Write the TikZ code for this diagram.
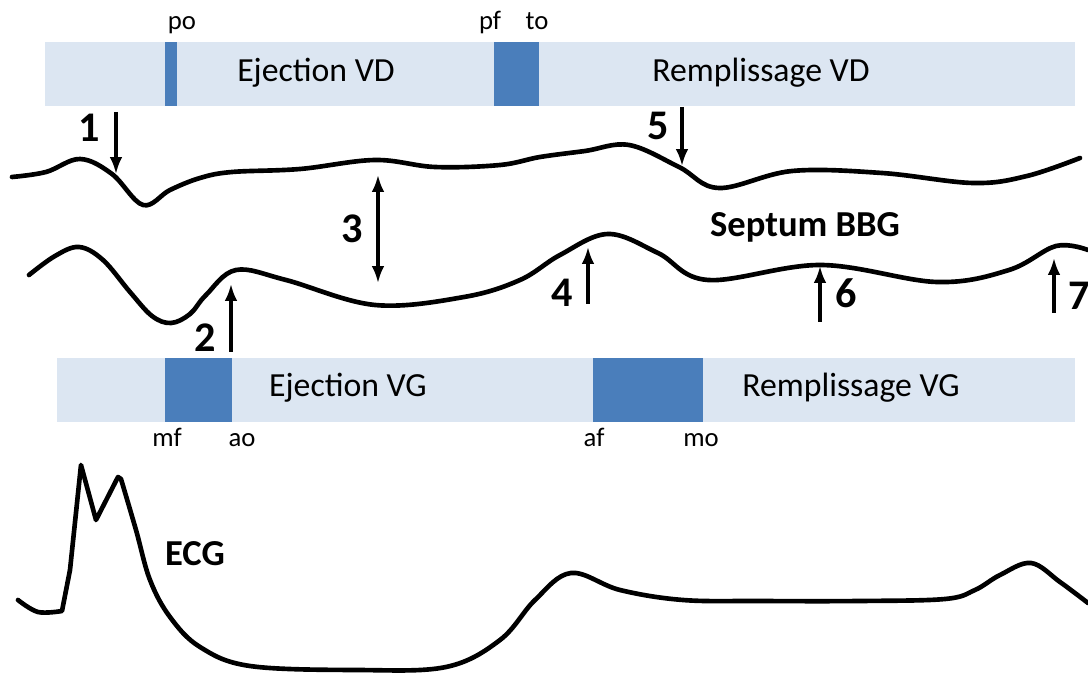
\documentclass[tikz,border=0pt]{standalone}
\usepackage{fontspec}
\setmainfont{Carlito}
\usetikzlibrary{arrows.meta}
\definecolor{barlight}{HTML}{DCE6F2}
\definecolor{bardark}{HTML}{4A7EBB}
\tikzset{
  curve/.style={line width=3.3pt, line cap=round, line join=round},
  arr/.style={line width=2.2pt, -{Latex[length=12pt,width=9pt]}},
  dblarr/.style={line width=2.2pt, {Latex[length=12pt,width=9pt]}-{Latex[length=12pt,width=9pt]}},
  lbl/.style={font=\fontsize{19}{19}\selectfont, inner sep=0pt, anchor=base},
  phase/.style={font=\fontsize{24}{24}\selectfont, inner sep=0pt, anchor=base},
  num/.style={font=\fontsize{30}{30}\selectfont\bfseries, inner sep=0pt, anchor=base},
  ttl/.style={font=\fontsize{26}{26}\selectfont\bfseries, inner sep=0pt, anchor=base},
}
\begin{document}
\begin{tikzpicture}[x=0.025cm, y=-0.025cm]
    \useasboundingbox (0,0) rectangle (1088,675);

    % VD bar
    \begin{scope}
        \fill[barlight] (45,42) rectangle (1075,106);
        \fill[bardark] (165,42) rectangle (177,106);
        \fill[bardark] (494,42) rectangle (539,106);
        \node[phase] (ejvd) at (316,82) {Ejection VD};
        \node[phase] (rvd) at (761,82) {Remplissage VD};
        \node[lbl] (po) at (182,30) {po};
        \node[lbl] (pf) at (490,30) {pf};
        \node[lbl] (to) at (537,30) {to};
    \end{scope}

    % Septum (two traces)
    \begin{scope}
        \draw[curve] plot[smooth,tension=0.6] coordinates {(12,177) (46,172) (80,159) (112,174) (143,205) (170,190) (200,178) (232,172) (300,169) (375,160) (435,167) (500,165) (540,157) (585,151) (629,145) (679,167) (719,188) (792,171) (882,173) (973,183) (1027,176) (1080,158)};
        \draw[curve] plot[smooth,tension=0.6] coordinates {(29,275) (55,256) (79,247) (103,260) (130,292) (152,316) (171,323) (190,314) (206,295) (236,270) (286,280) (375,305) (464,297) (520,280) (560,255) (608,234) (658,253) (708,280) (821,265) (937,282) (1009,270) (1056,246) (1088,250)};
        \node[ttl] (sep) at (805,237) {Septum BBG};
        \coordinate (a1) at (116,112); \coordinate (b1) at (116,174);
        \coordinate (a2) at (231,352); \coordinate (b2) at (231,284);
        \coordinate (a3) at (378,175); \coordinate (b3) at (378,283);
        \coordinate (a4) at (588,304); \coordinate (b4) at (588,247);
        \coordinate (a5) at (682,107); \coordinate (b5) at (682,166);
        \coordinate (a6) at (820,322); \coordinate (b6) at (820,266);
        \coordinate (a7) at (1054,313); \coordinate (b7) at (1054,258);
        \foreach \i in {1,2,4,5,6,7} \draw[arr] (a\i) -- (b\i);
        \draw[dblarr] (a3) -- (b3);
        \node[num] (n1) at (89,142) {1};
        \node[num] (n2) at (205,352) {2};
        \node[num] (n3) at (352,243) {3};
        \node[num] (n4) at (562,307) {4};
        \node[num] (n5) at (658,140) {5};
        \node[num] (n6) at (846,308) {6};
        \node[num] (n7) at (1079,310) {7};
    \end{scope}

    % VG bar
    \begin{scope}
        \fill[barlight] (57,358) rectangle (1075,422);
        \fill[bardark] (165,358) rectangle (232,422);
        \fill[bardark] (593,358) rectangle (703,422);
        \node[phase] (ejvg) at (348,397) {Ejection VG};
        \node[phase] (rvg) at (851,397) {Remplissage VG};
        \node[lbl] (mf) at (167,447) {mf};
        \node[lbl] (ao) at (242,447) {ao};
        \node[lbl] (af) at (594,447) {af};
        \node[lbl] (mo) at (701,447) {mo};
    \end{scope}

    % ECG
    \draw[curve] plot[smooth,tension=0.6] coordinates {(18,600) (38,612) (62,611)}
        -- (70,570) -- (81,465) -- (96,520) -- (118,477)
        -- plot[smooth,tension=0.6] coordinates {(121,479) (136,530) (150,580) (170,617) (200,647) (250,666) (357,670) (446,667) (500,640) (535,600) (571,573) (620,590) (683,600) (760,601) (860,601) (945,599) (975,590) (1000,575) (1031,563) (1060,582) (1088,603)};
    \node[ttl] (ecg) at (195,566) {ECG};
\end{tikzpicture}
\end{document}
